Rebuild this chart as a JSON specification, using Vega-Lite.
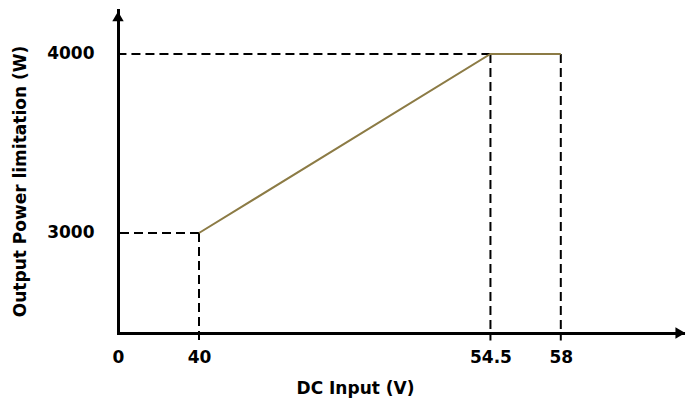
{
  "$schema": "https://vega.github.io/schema/vega-lite/v6.json",
  "width": 565,
  "height": 323,
  "autosize": {"type": "none"},
  "padding": {"left": 118, "top": 10, "right": 4, "bottom": 69},
  "background": "white",
  "config": {
    "view": {"stroke": null},
    "font": "DejaVu Sans",
    "axis": {"labelFont": "DejaVu Sans", "titleFont": "DejaVu Sans", "labelFontWeight": "bold", "titleFontWeight": "bold", "labelFontSize": 17, "titleFontSize": 17, "labelColor": "black", "titleColor": "black", "grid": false, "domainColor": "black", "domainWidth": 3, "domainCap": "square", "labelFlush": false}
  },
  "datasets": {
    "curve": [
      {"voltage": 40, "power": 3000},
      {"voltage": 54.5, "power": 4000},
      {"voltage": 58, "power": 4000}
    ],
    "hguides": [
      {"voltage": 40, "power": 3000},
      {"voltage": 54.5, "power": 4000}
    ]
  },
  "layer": [
    {
      "data": {"name": "curve"},
      "mark": {"type": "rule", "color": "black", "strokeWidth": 2, "strokeDash": [9, 5]},
      "encoding": {
        "x": {"field": "voltage", "type": "quantitative", "scale": {"domain": [35.97, 64.08], "nice": false, "zero": false}, "axis": {
          "values": [35.97, 40, 54.5, 58],
          "labelExpr": "datum.value < 37 ? '0' : format(datum.value, '~g')",
          "ticks": false,
          "labelPadding": 16,
          "title": "DC Input (V)",
          "titleX": 237,
          "titleY": 55,
          "titleBaseline": "middle",
          "titleAlign": "center"
        }},
        "y": {"field": "power", "type": "quantitative", "scale": {"domain": [2441.3, 4245.8], "nice": false, "zero": false}, "axis": {
          "values": [3000, 4000],
          "format": "d",
          "ticks": false,
          "labelPadding": 24,
          "title": "Output Power limitation (W)",
          "titleAngle": 270,
          "titleX": -98,
          "titleY": 171,
          "titleAlign": "center",
          "titleBaseline": "middle"
        }},
        "y2": {"datum": 2400}
      }
    },
    {
      "data": {"name": "hguides"},
      "mark": {"type": "rule", "color": "black", "strokeWidth": 2, "strokeDash": [9, 5]},
      "encoding": {
        "x": {"field": "voltage", "type": "quantitative"},
        "x2": {"datum": 35.97},
        "y": {"field": "power", "type": "quantitative"}
      }
    },
    {
      "data": {"name": "curve"},
      "mark": {"type": "line", "color": "#8C7B45", "strokeWidth": 2},
      "encoding": {
        "x": {"field": "voltage", "type": "quantitative"},
        "y": {"field": "power", "type": "quantitative"}
      }
    },
    {
      "data": {"values": [{"a": 1}]},
      "mark": {"type": "point", "shape": "triangle-right", "filled": true, "color": "black", "size": 130, "opacity": 1},
      "encoding": {
        "x": {"datum": 63.95, "type": "quantitative"},
        "y": {"datum": 2441.3, "type": "quantitative"}
      }
    },
    {
      "data": {"values": [{"a": 1}]},
      "mark": {"type": "point", "shape": "triangle-up", "filled": true, "color": "black", "size": 130, "opacity": 1},
      "encoding": {
        "x": {"datum": 35.97, "type": "quantitative"},
        "y": {"datum": 4210, "type": "quantitative"}
      }
    }
  ]
}
